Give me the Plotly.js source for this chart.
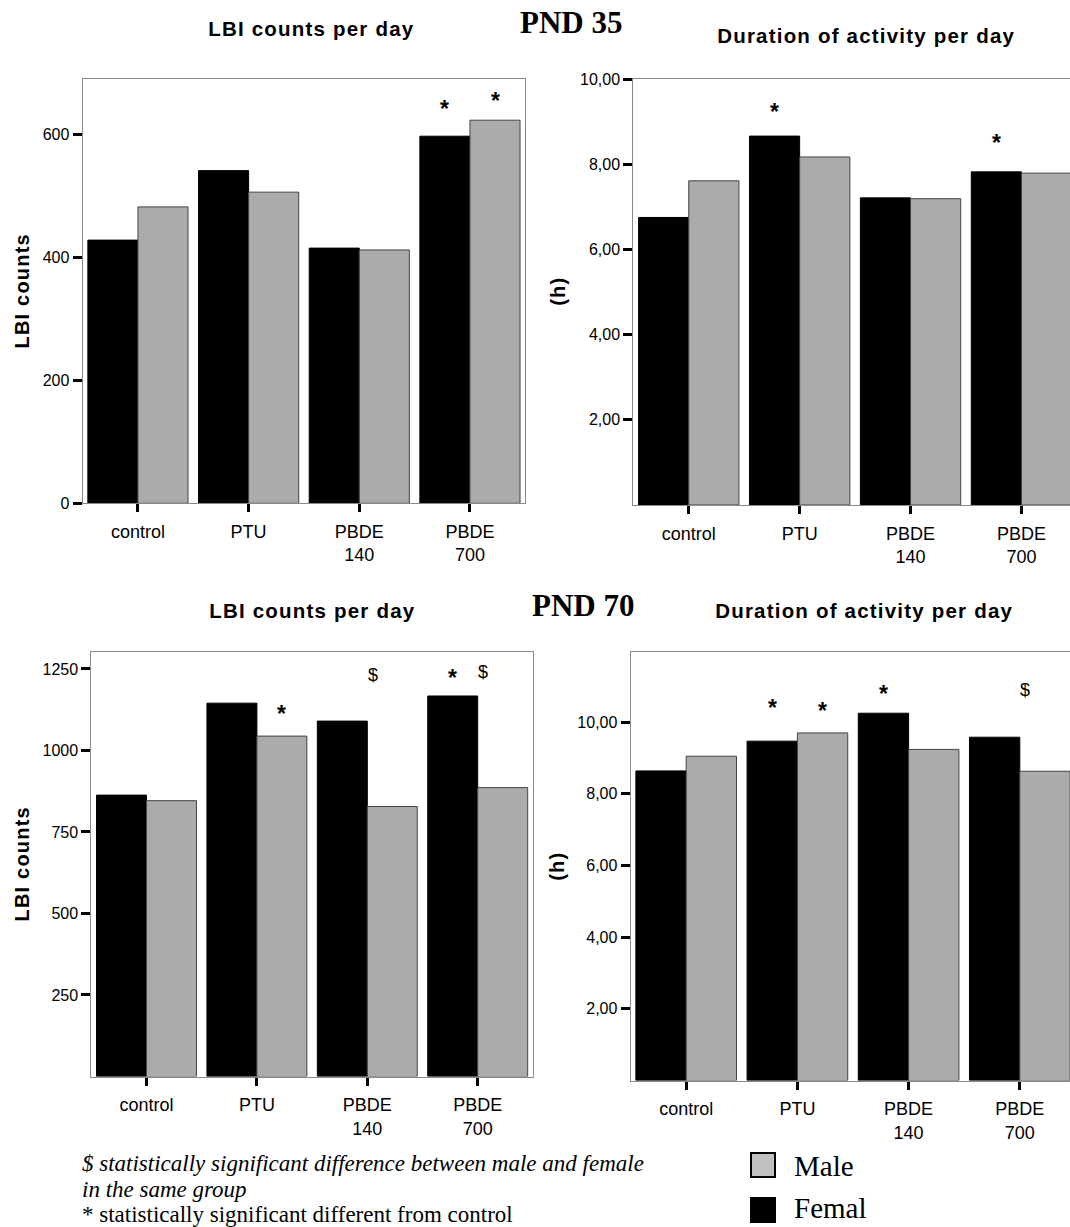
<!DOCTYPE html>
<html>
<head>
<meta charset="utf-8">
<script src="https://cdn.plot.ly/plotly-3.0.1.min.js"></script>
<style>
  html, body { margin:0; padding:0; overflow:hidden; background:#fff; }
  #wrap { width:1070px; height:1227px; overflow:hidden; }
  #chart { width:1100px; height:1227px; }
</style>
</head>
<body>
<div id="wrap"><div id="chart"></div></div>
<script>
// ---------------- data ----------------
const groups = ['control', 'PTU', 'PBDE 140', 'PBDE 700'];
const groupLabels = ['control', 'PTU', 'PBDE<br>140', 'PBDE<br>700'];

// PND 35 – LBI counts per day
const lbi35Female = [428, 541, 415, 597];
const lbi35Male   = [482, 506, 412, 623];
// PND 35 – Duration of activity per day (h)
const dur35Female = [6.75, 8.66, 7.21, 7.82];
const dur35Male   = [7.61, 8.17, 7.19, 7.79];
// PND 70 – LBI counts per day
const lbi70Female = [863, 1145, 1090, 1167];
const lbi70Male   = [846, 1044, 828, 886];
// PND 70 – Duration of activity per day (h)
const dur70Female = [8.64, 9.47, 10.25, 9.58];
const dur70Male   = [9.05, 9.70, 9.24, 8.63];

// tick labels
const lbi35Ticks = [0, 200, 400, 600];
const lbi35TickText = ['0', '200', '400', '600'];
const lbi70Ticks = [250, 500, 750, 1000, 1250];
const lbi70TickText = ['250', '500', '750', '1000', '1250'];
const durTicks = [2, 4, 6, 8, 10];
const durTickText = ['2,00', '4,00', '6,00', '8,00', '10,00'];

// significance marks: symbol, group index, bar (F = female, M = male, B = between), height in data units
const mark35LbiText = ['*', '*'];
const mark35LbiGroup = [3, 3];
const mark35LbiBar = ['F', 'M'];
const mark35LbiLevel = [648, 661];

const mark35DurText = ['*', '*'];
const mark35DurGroup = [1, 3];
const mark35DurBar = ['F', 'F'];
const mark35DurLevel = [9.32, 8.59];

const mark70LbiText = ['*', '$', '*', '$'];
const mark70LbiGroup = [1, 2, 3, 3];
const mark70LbiBar = ['M', 'B', 'F', 'B'];
const mark70LbiLevel = [1124, 1232, 1235, 1241];

const mark70DurText = ['*', '*', '*', '$'];
const mark70DurGroup = [1, 1, 2, 3];
const mark70DurBar = ['F', 'M', 'F', 'B'];
const mark70DurLevel = [10.52, 10.43, 10.90, 10.90];

const seriesNames = ['Male', 'Femal'];

// ---------------- layout helpers ----------------
const W = 1100, H = 1227;
const px = p => p / W;
const py = p => 1 - p / H;

const BARGAP = 0.095;
const half = (1 - BARGAP) / 4;   // offset of each bar centre from group centre
const barOffset = { F: -half, M: half, B: 0.05 };

const FEMALE_COLOR = '#000000';
const MALE_COLOR = '#ababab';
const FRAME = '#8a8a8a';
const SANS = 'Liberation Sans, Arial, sans-serif';
const SERIF = 'Liberation Serif, Times New Roman, serif';

function xAxis(x0, x1, anchor) {
  return {
    domain: [px(x0), px(x1)], anchor: anchor,
    type: 'category', categoryorder: 'array', categoryarray: groups,
    tickvals: groups, ticktext: groupLabels,
    range: [-0.5, 3.5],
    ticks: 'outside', ticklen: 8, tickwidth: 3, tickcolor: '#000',
    showline: true, linecolor: FRAME, linewidth: 1, mirror: true,
    showgrid: false, zeroline: false, fixedrange: true,
    tickfont: { family: SANS, size: 18, color: '#000' },
    ticklabelstandoff: 4
  };
}
function yAxis(top, bottom, anchor, range, tv, tt) {
  return {
    domain: [py(bottom), py(top)], anchor: anchor,
    range: range, tickvals: tv, ticktext: tt,
    ticks: 'outside', ticklen: 9, tickwidth: 3, tickcolor: '#000',
    showline: true, linecolor: FRAME, linewidth: 1, mirror: true,
    showgrid: false, zeroline: false, fixedrange: true,
    tickfont: { family: SANS, size: 16, color: '#000' }
  };
}
function bars(female, male, xa, ya) {
  return [
    { type: 'bar', x: groups, y: female, name: seriesNames[1], xaxis: xa, yaxis: ya,
      marker: { color: FEMALE_COLOR, line: { color: '#000', width: 1 } }, hoverinfo: 'y' },
    { type: 'bar', x: groups, y: male, name: seriesNames[0], xaxis: xa, yaxis: ya,
      marker: { color: MALE_COLOR, line: { color: '#444', width: 1 } }, hoverinfo: 'y' }
  ];
}
function marks(text, grp, bar, level, xa, ya) {
  return text.map((t, i) => ({
    xref: xa, yref: ya, x: grp[i] + barOffset[bar[i]], y: level[i],
    text: t, showarrow: false, xanchor: 'center', yanchor: 'middle',
    yshift: t === '*' ? -4 : 0,
    font: t === '*' ? { family: SANS, size: 23, color: '#000', weight: 'bold' }
                    : { family: SANS, size: 18, color: '#000' }
  }));
}
function paperText(text, x, y, font, extra) {
  return Object.assign({
    xref: 'paper', yref: 'paper', x: px(x), y: py(y), text: text,
    showarrow: false, xanchor: 'center', yanchor: 'middle', font: font
  }, extra || {});
}

const titleFont = { family: SANS, size: 20.5, color: '#000', weight: 'bold' };
const axTitleFont = { family: SANS, size: 20, color: '#000', weight: 'bold' };
const pndFont = { family: SERIF, size: 31, color: '#000', weight: 'bold' };
const noteItalic = { family: SERIF, size: 23, color: '#000', style: 'italic' };
const noteRegular = { family: SERIF, size: 23, color: '#000' };
const legendFont = { family: SERIF, size: 29, color: '#000' };

const notes = [
  '$ statistically significant difference between male and female',
  'in the same group',
  '* statistically significant different from control'
];

const data = [].concat(
  bars(lbi35Female, lbi35Male, 'x', 'y'),
  bars(dur35Female, dur35Male, 'x2', 'y2'),
  bars(lbi70Female, lbi70Male, 'x3', 'y3'),
  bars(dur70Female, dur70Male, 'x4', 'y4')
);

const annotations = [].concat(
  marks(mark35LbiText, mark35LbiGroup, mark35LbiBar, mark35LbiLevel, 'x', 'y'),
  marks(mark35DurText, mark35DurGroup, mark35DurBar, mark35DurLevel, 'x2', 'y2'),
  marks(mark70LbiText, mark70LbiGroup, mark70LbiBar, mark70LbiLevel, 'x3', 'y3'),
  marks(mark70DurText, mark70DurGroup, mark70DurBar, mark70DurLevel, 'x4', 'y4'),
  [
    paperText('LBI counts per day', 311, 28.5, titleFont),
    paperText('Duration of activity per day', 866, 35.5, titleFont),
    paperText('LBI counts per day', 312, 610, titleFont),
    paperText('Duration of activity per day', 864, 610.5, titleFont),
    paperText('PND 35', 571, 22.5, pndFont),
    paperText('PND 70', 583, 605, pndFont),
    paperText('LBI counts', 21, 291.5, axTitleFont, { textangle: -90 }),
    paperText('(h)', 558, 291, axTitleFont, { textangle: -90 }),
    paperText('LBI counts', 21.5, 864, axTitleFont, { textangle: -90 }),
    paperText('(h)', 557, 866, axTitleFont, { textangle: -90 }),
    paperText(notes[0], 80, 1163.5, noteItalic, { xanchor: 'left' }),
    paperText(notes[1], 80, 1189, noteItalic, { xanchor: 'left' }),
    paperText(notes[2], 80, 1214, noteRegular, { xanchor: 'left' }),
    paperText(seriesNames[0], 792, 1166, legendFont, { xanchor: 'left' }),
    paperText(seriesNames[1], 792, 1208, legendFont, { xanchor: 'left' })
  ]
);

const shapes = [
  { type: 'rect', xref: 'paper', yref: 'paper', x0: px(751), x1: px(775), y0: py(1153), y1: py(1177),
    fillcolor: '#c0c0c0', line: { color: '#000', width: 2 } },
  { type: 'rect', xref: 'paper', yref: 'paper', x0: px(751), x1: px(775), y0: py(1198), y1: py(1222),
    fillcolor: '#000', line: { color: '#000', width: 2 } }
];

const layout = {
  width: W, height: H,
  margin: { l: 0, r: 0, t: 0, b: 0 },
  paper_bgcolor: '#fff', plot_bgcolor: '#fff',
  showlegend: false,
  barmode: 'group', bargap: BARGAP, bargroupgap: 0,
  font: { family: SANS, color: '#000' },
  xaxis:  xAxis(82.6, 525.3, 'y'),
  yaxis:  yAxis(79, 503.3, 'x', [0, 690], lbi35Ticks, lbi35TickText),
  xaxis2: xAxis(633.3, 1076.9, 'y2'),
  yaxis2: yAxis(79, 505, 'x2', [0, 10], durTicks, durTickText),
  xaxis3: xAxis(91.3, 532.9, 'y3'),
  yaxis3: yAxis(652.3, 1076.5, 'x3', [0, 1301], lbi70Ticks, lbi70TickText),
  xaxis4: xAxis(630.6, 1075.4, 'y4'),
  yaxis4: yAxis(652.3, 1080.5, 'x4', [0, 11.95], durTicks, durTickText),
  annotations: annotations,
  shapes: shapes
};

Plotly.newPlot('chart', data, layout, { staticPlot: true, displayModeBar: false }).then(() => {
  const spaced = ['LBI counts per day', 'Duration of activity per day', 'LBI counts', '(h)'];
  document.querySelectorAll('#chart text.annotation-text').forEach(t => {
    if (spaced.includes(t.textContent)) t.style.letterSpacing = '1.2px';
  });
});
</script>
</body>
</html>
